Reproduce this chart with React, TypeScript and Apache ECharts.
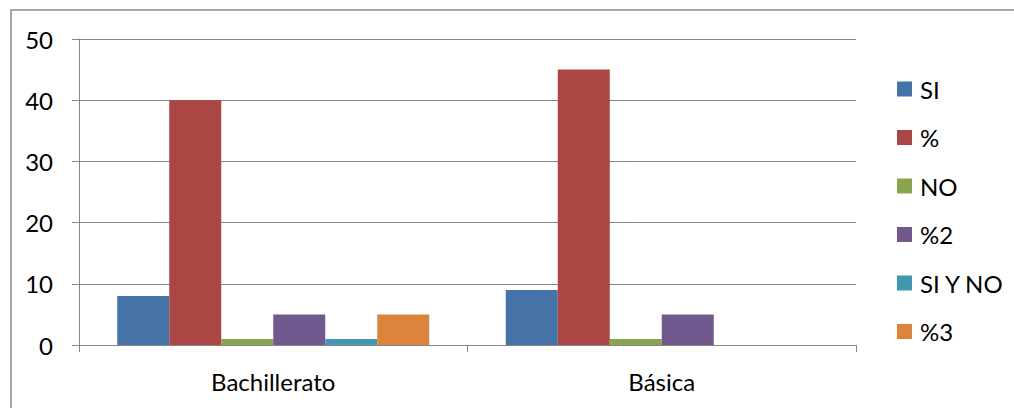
import React, { useEffect, useRef } from "react";
import * as echarts from "echarts";

const categories = ["Bachillerato", "Básica"];
const seriesNames = ["SI", "%", "NO", "%2", "SI Y NO", "%3"];
const siValues = [8, 9];
const pctValues = [40, 45];
const noValues = [1, 1];
const pct2Values = [5, 5];
const siYNoValues = [1, null];
const pct3Values = [5, null];
const colors = ["#4572A7", "#AA4643", "#89A54E", "#71588F", "#4198AF", "#DB843D"];

export default function App() {
  const ref = useRef<HTMLDivElement>(null);
  useEffect(() => {
    if (!ref.current) return;
    const chart = echarts.init(ref.current, undefined, { renderer: "svg" });
    const allValues = [siValues, pctValues, noValues, pct2Values, siYNoValues, pct3Values];
    const font = "Lato, 'Open Sans', sans-serif";
    chart.setOption({
      animation: false,
      textStyle: { fontFamily: font },
      graphic: [
        {
          type: "rect",
          shape: { x: 11, y: 10, width: 1200, height: 600 },
          style: { fill: "none", stroke: "#8a8a8a", lineWidth: 1.5 },
          silent: true,
        },
      ],
      grid: { left: 79, right: 158, top: 39, bottom: 63 },
      legend: {
        orient: "vertical",
        left: 892,
        top: 72,
        padding: 5,
        itemWidth: 15,
        itemHeight: 15,
        itemGap: 24.5,
        icon: "rect",
        textStyle: { fontSize: 24, color: "#000", fontFamily: font, padding: [0, 0, 0, 3] },
        data: seriesNames,
      },
      xAxis: {
        type: "category",
        data: categories,
        axisLine: { lineStyle: { color: "#868686", width: 1 } },
        axisTick: { show: true, length: 7, lineStyle: { color: "#868686" } },
        axisLabel: { fontSize: 24, color: "#000", margin: 24, fontFamily: font },
      },
      yAxis: {
        type: "value",
        min: 0,
        max: 50,
        interval: 10,
        axisLine: { show: true, lineStyle: { color: "#868686", width: 1 } },
        axisTick: { show: true, length: 7, lineStyle: { color: "#868686" } },
        splitLine: { lineStyle: { color: "#868686", width: 1 } },
        axisLabel: { fontSize: 24, color: "#000", margin: 26, fontFamily: font },
      },
      series: seriesNames.map((name, i) => ({
        name,
        type: "bar",
        data: allValues[i],
        barGap: "0%",
        barCategoryGap: "19.7%",
        itemStyle: { color: colors[i] },
      })),
    });
    return () => chart.dispose();
  }, []);
  return (
    <div
      ref={ref}
      style={{ position: "fixed", left: 0, top: 0, width: 1014, height: 408, background: "#fff" }}
    />
  );
}
